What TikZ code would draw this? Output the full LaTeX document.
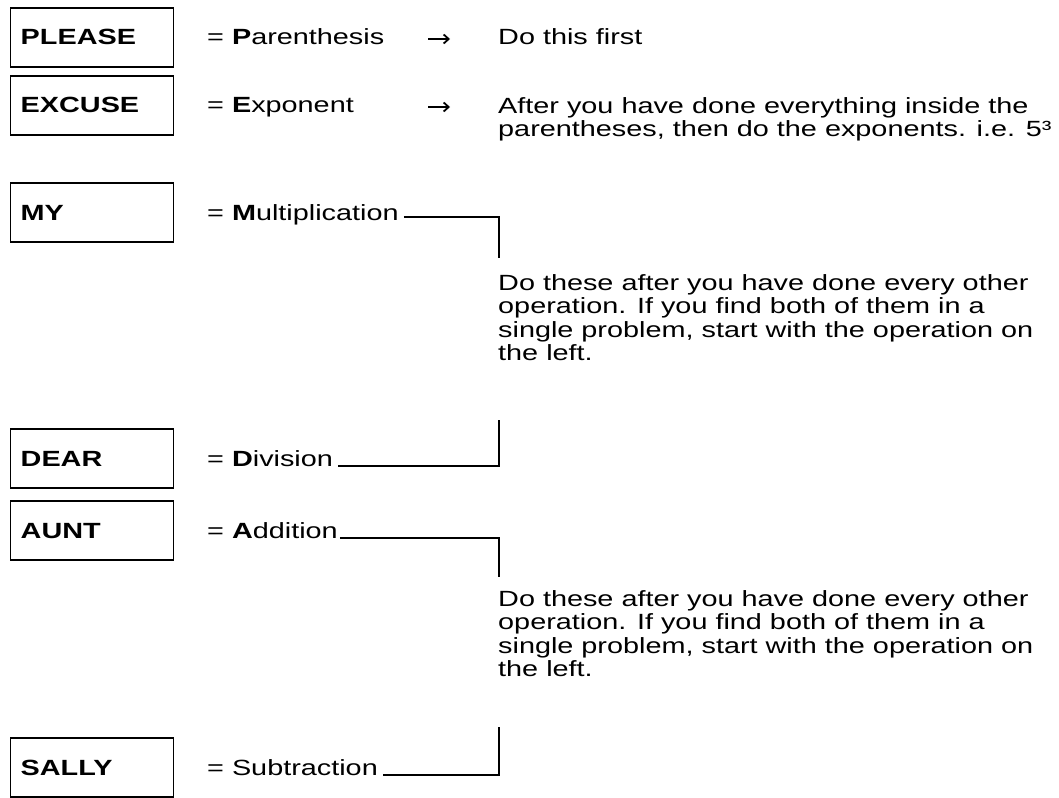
\documentclass[tikz,border=0pt]{standalone}
\usepackage{fontspec}
\setmainfont{Liberation Sans}[FakeStretch=1.31]
\usetikzlibrary{arrows.meta,positioning}

\tikzset{
  basefont/.style={font=\fontsize{22}{23.5}\selectfont},
  opbox/.style={draw, line width=1.4pt, anchor=base west, inner xsep=10pt,
    inner ysep=0pt, text width=143pt, text height=37pt, text depth=22pt,
    font=\fontsize{22}{23.5}\selectfont\bfseries},
  lbl/.style={basefont, anchor=base west, inner sep=0pt},
  note/.style={basefont, anchor=north west, inner sep=0pt, align=left},
  bracket/.style={line width=1.4pt},
  pointer/.style={line width=1.8pt, -{Straight Barb[length=5pt,width=9pt]}}
}

\begin{document}
\begin{tikzpicture}[x=1pt,y=-1pt]
    \useasboundingbox (0,0) rectangle (1059,797);

    % word boxes
    \node[opbox] (please) at (10,45)  {PLEASE};
    \node[opbox] (excuse) at (10,113) {EXCUSE};
    \node[opbox] (my)     at (10,220) {MY};
    \node[opbox] (dear)   at (10,466) {DEAR};
    \node[opbox] (aunt)   at (10,538) {AUNT};
    \node[opbox] (sally)  at (10,775) {SALLY};

    % operations
    \node[lbl] (paren) at (207,45)  {= \textbf{P}arenthesis};
    \node[lbl] (expo)  at (207,113) {= \textbf{E}xponent};
    \node[lbl] (mult)  at (207,220) {= \textbf{M}ultiplication};
    \node[lbl] (divi)  at (207,466) {= \textbf{D}ivision};
    \node[lbl] (addi)  at (207,538) {= \textbf{A}ddition};
    \node[lbl] (subt)  at (207,775) {= Subtraction};

    % explanations
    \node[lbl] (first) at (498,45) {Do this first};
    \node[note] (expnote) at (498,97)
        {After you have done everything inside the\\
         parentheses, then do the exponents. i.e. 5³};
    \node[note] (mdnote) at (498,274)
        {Do these after you have done every other\\
         operation. If you find both of them in a\\
         single problem, start with the operation on\\
         the left.};
    \node[note] (asnote) at (498,590)
        {Do these after you have done every other\\
         operation. If you find both of them in a\\
         single problem, start with the operation on\\
         the left.};

    % arrows
    \coordinate (pa) at (428,39);
    \coordinate (pb) at (450,39);
    \coordinate (ea) at (428,107);
    \coordinate (eb) at (450,107);
    \draw[pointer] (pa) -- (pb);
    \draw[pointer] (ea) -- (eb);

    % brackets
    \coordinate (mtop) at (499,258);
    \coordinate (mbot) at (499,420);
    \coordinate (atop) at (499,577);
    \coordinate (abot) at (499,727);
    \draw[bracket] ([xshift=5pt,yshift=3pt]mult.base east) -| (mtop);
    \draw[bracket] ([xshift=5pt]divi.base east) -| (mbot);
    \draw[bracket] ([xshift=2pt]addi.base east) -| (atop);
    \draw[bracket] ([xshift=5pt]subt.base east) -| (abot);
\end{tikzpicture}
\end{document}
